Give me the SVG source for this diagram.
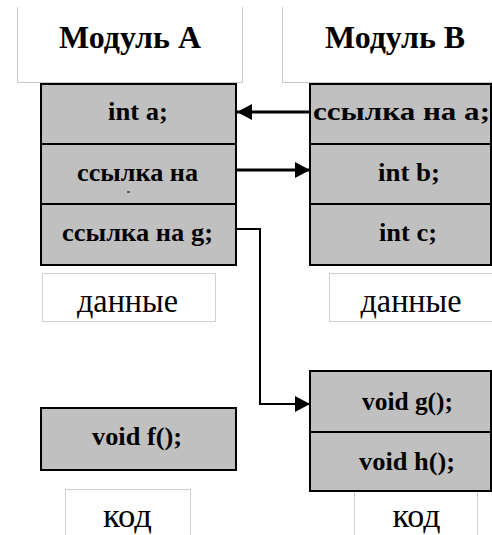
<svg xmlns="http://www.w3.org/2000/svg" width="492" height="535" viewBox="0 0 492 535">
<style>
.hdr{fill:none;stroke:#c8c8c8;stroke-width:1}
.lbl{fill:#fff;stroke:#d0d0d0;stroke-width:1}
.cell{fill:#c0c0c0;stroke:#000;stroke-width:2}
text{font-family:'Liberation Serif','Times New Roman',serif;fill:#000;text-anchor:middle}
.h{font-size:32px;font-weight:bold}
.r{font-size:26px;font-weight:bold}
.n{font-size:34px}
.conn{fill:none;stroke:#000;stroke-width:3}
.conn2{fill:none;stroke:#000;stroke-width:2}
</style>
<defs>
<marker id="ah" viewBox="0 0 15 16" refX="15" refY="8" markerWidth="15" markerHeight="16" markerUnits="userSpaceOnUse" orient="auto">
<path d="M0,0 L15,8 L0,16 Z" fill="#000"/>
</marker>
</defs>
<rect width="492" height="535" fill="#fff"/>

<g id="moduleA-header">
<path class="hdr" d="M17.5,7 V82.5 H242.5 V7"/>
<text class="h" x="130" y="48" textLength="142" lengthAdjust="spacingAndGlyphs">Модуль А</text>
</g>
<g id="moduleB-header">
<path class="hdr" d="M282.5,7 V82.5 H492"/>
<text class="h" x="395" y="48" textLength="140" lengthAdjust="spacingAndGlyphs">Модуль B</text>
</g>

<g id="A-int-a">
<rect class="cell" x="41" y="84" width="195" height="60"/>
<text class="r" x="138" y="120" textLength="60" lengthAdjust="spacingAndGlyphs">int a;</text>
</g>
<g id="A-ref-b">
<rect class="cell" x="41" y="144" width="195" height="60"/>
<text class="r" x="137.5" y="181" textLength="121" lengthAdjust="spacingAndGlyphs">ссылка на</text>
<line x1="127" y1="192" x2="130" y2="192" stroke="#000" stroke-width="1"/>
</g>
<g id="A-ref-g">
<rect class="cell" x="41" y="204" width="195" height="61"/>
<text class="r" x="137.5" y="241" textLength="151" lengthAdjust="spacingAndGlyphs">ссылка на g;</text>
</g>

<g id="B-ref-a">
<rect class="cell" x="310" y="84" width="181" height="60"/>
<text class="r" x="401.5" y="120" textLength="177" lengthAdjust="spacingAndGlyphs">ссылка на а;</text>
</g>
<g id="B-int-b">
<rect class="cell" x="310" y="144" width="181" height="60"/>
<text class="r" x="409" y="181" textLength="62" lengthAdjust="spacingAndGlyphs">int b;</text>
</g>
<g id="B-int-c">
<rect class="cell" x="310" y="204" width="181" height="61"/>
<text class="r" x="408" y="241" textLength="58" lengthAdjust="spacingAndGlyphs">int c;</text>
</g>

<g id="A-data-label">
<rect class="lbl" x="42.5" y="273.5" width="173" height="48"/>
<text class="n" x="127.5" y="312" textLength="101" lengthAdjust="spacingAndGlyphs">данные</text>
</g>
<g id="B-data-label">
<rect class="lbl" x="329.5" y="273.5" width="170" height="48"/>
<text class="n" x="411" y="312" textLength="101" lengthAdjust="spacingAndGlyphs">данные</text>
</g>

<g id="B-code-label">
<rect class="lbl" x="354.5" y="489.5" width="123" height="50"/>
<text class="n" x="416.5" y="527" textLength="48" lengthAdjust="spacingAndGlyphs">код</text>
</g>
<g id="A-code-label">
<rect class="lbl" x="65.5" y="489.5" width="125" height="50"/>
<text class="n" x="127.5" y="527" textLength="49" lengthAdjust="spacingAndGlyphs">код</text>
</g>

<g id="A-void-f">
<rect class="cell" x="41" y="408" width="195" height="62"/>
<text class="r" x="137" y="445" textLength="90" lengthAdjust="spacingAndGlyphs">void f();</text>
</g>
<g id="B-void-g">
<rect class="cell" x="310" y="371" width="181" height="61"/>
<text class="r" x="407.5" y="410" textLength="91" lengthAdjust="spacingAndGlyphs">void g();</text>
</g>
<g id="B-void-h">
<rect class="cell" x="310" y="432" width="181" height="59"/>
<text class="r" x="407" y="470" textLength="96" lengthAdjust="spacingAndGlyphs">void h();</text>
</g>

<g id="connectors">
<line class="conn" x1="310" y1="112" x2="237" y2="112" marker-end="url(#ah)"/>
<line class="conn" x1="236" y1="170" x2="310" y2="170" marker-end="url(#ah)"/>
<path class="conn2" d="M236,229 H260 V404 H310" marker-end="url(#ah)"/>
</g>
</svg>
